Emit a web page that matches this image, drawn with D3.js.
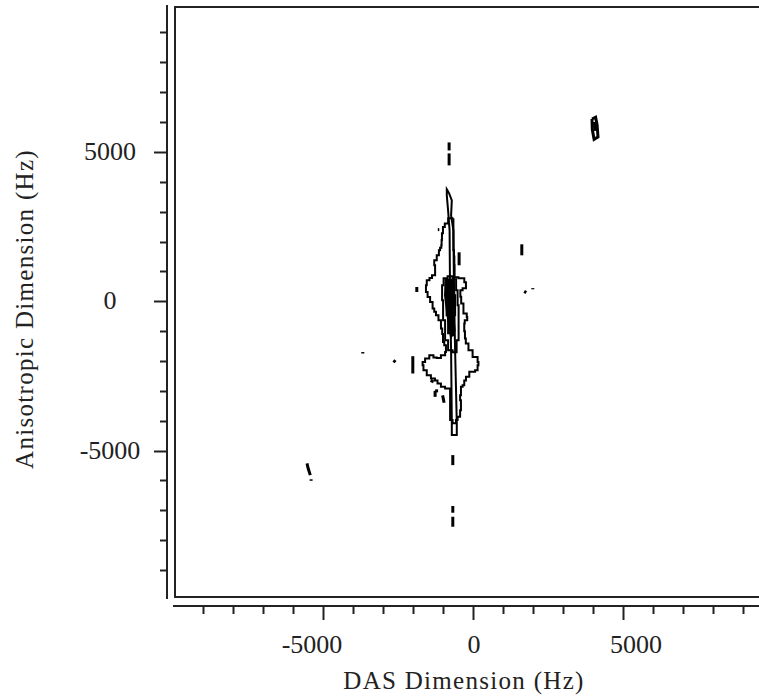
<!DOCTYPE html>
<html>
<head>
<meta charset="utf-8">
<script src="https://cdn.jsdelivr.net/npm/d3@7"></script>
<style>
  html, body { margin: 0; padding: 0; background: #fff; overflow: hidden; }
  text { font-family: "Liberation Serif", "DejaVu Serif", serif; fill: #222; }
</style>
</head>
<body>
<div id="chart"></div>
<script>
// axis ticks (Hz)
const xTicks = d3.range(-9000, 10000, 1000);
const yTicks = d3.range(-9000, 10000, 1000);
const xTickLabels = [-5000, 0, 5000];
const yTickLabels = [5000, 0, -5000];

// main contour around the isotropic peak (Hz, Hz)
const outerContour = [[-640,2776],[-640,1705],[-600,1500],[-617,1204],[-583,803],[-360,770],[-193,635],[-250,435],[-417,368],[-400,150],[-360,-77],[-250,-411],[-140,-525],[-217,-635],[-307,-746],[-250,-1000],[-260,-1250],[-193,-1415],[-83,-1639],[83,-1863],[250,-2030],[140,-2140],[193,-2307],[-27,-2364],[-193,-2531],[-250,-2650],[-307,-2809],[-360,-2866],[-417,-3143],[-417,-3311],[-360,-3645],[-473,-3869],[-527,-3979],[-583,-4080],[-750,-3979],[-750,-2919],[-860,-2919],[-973,-2866],[-1140,-2752],[-1200,-2650],[-1307,-2585],[-1473,-2475],[-1583,-2307],[-1693,-2140],[-1640,-2030],[-1527,-1916],[-1360,-1806],[-1250,-1880],[-1140,-1896],[-973,-1806],[-860,-1695],[-917,-1471],[-973,-1361],[-1000,-1100],[-1027,-913],[-1083,-635],[-1193,-468],[-1250,-350],[-1307,-244],[-1360,-23],[-1473,144],[-1527,311],[-1583,535],[-1473,702],[-1400,780],[-1307,869],[-1193,1037],[-1307,1204],[-1250,1371],[-1140,1538],[-1107,1705],[-1060,1790],[-1027,1873],[-1040,2050],[-1003,2274],[-973,2485],[-880,2600],[-750,2776]];

// narrow ridge running along the anisotropic axis
const spineContour = [[-860,3745],[-783,3612],[-693,3377],[-717,2876],[-640,2374],[-617,33],[-583,-1639],[-527,-4080],[-527,-4481],[-693,-4481],[-693,-4080],[-717,-1639],[-750,33],[-767,2374],[-817,3043],[-860,3545]];

// higher levels in the centre
const innerContours = [
  [[-917,769],[-750,836],[-583,736],[-517,368],[-483,-134],[-450,-635],[-483,-1304],[-583,-1706],[-750,-1639],[-883,-1304],[-950,-635],[-1017,33],[-1017,535]],
  [[-850,535],[-683,602],[-583,201],[-583,-468],[-650,-1137],[-783,-1070],[-850,-468],[-883,100]]
];
const coreContour = [[-900,720],[-640,720],[-600,100],[-660,-300],[-600,-1000],[-720,-1200],[-850,-400],[-920,200]];

// isolated small features
const fragments = [
  [[-783,5317],[-783,5049]],
  [[-783,4949],[-783,4548]],
  [[3980,6100],[4100,6160],[4150,5900],[4180,5500],[4050,5420],[3990,5750],[3980,6100]],
  [[4060,6000],[4080,5700]],
  [[1640,1906],[1640,1538]],
  [[1720,330],[1790,290]],
  [[2007,440],[2007,400]],
  [[-3660,-1700],[-3660,-1750]],
  [[-2640,-1980],[-2570,-2040]],
  [[-1993,-1839],[-1993,-2418]],
  [[-5520,-5430],[-5480,-5600],[-5410,-5820]],
  [[-5383,-5960],[-5383,-6010]],
  [[-1860,478],[-1860,311]],
  [[-1160,2398],[-1110,2398]],
  [[-450,1638],[-450,1204]],
  [[-1400,-2650],[-1300,-2700]],
  [[-1250,-3000],[-1250,-3200]],
  [[-1250,-3000],[-1150,-3000]],
  [[-1000,-3150],[-950,-3400]],
  [[-660,-5150],[-660,-5485]],
  [[-660,-6855],[-660,-7079]],
  [[-660,-7214],[-660,-7548]]
];

const width = 759, height = 698;

const x = d3.scaleLinear().domain([-9920, 10000]).range([175, 772.6]);
const y = d3.scaleLinear().domain([-9900, 9850]).range([597, 7]);
// label positions drift a little from the ticks in the original
const xLabel = d3.scaleLinear().domain([-5000, 5000]).range([312, 636]);

const svg = d3.select("#chart").append("svg")
    .attr("width", width)
    .attr("height", height);

// plot frame
svg.append("rect")
    .attr("x", x(-9920))
    .attr("y", y(9850))
    .attr("width", x(10000) - x(-9920) + 20)
    .attr("height", y(-9900) - y(9850))
    .attr("fill", "none")
    .attr("stroke", "#222")
    .attr("stroke-width", 2);

// detached y axis
const yAxisX = 167;
svg.append("line")
    .attr("x1", yAxisX).attr("x2", yAxisX)
    .attr("y1", 5).attr("y2", 599)
    .attr("stroke", "#222").attr("stroke-width", 2);

svg.append("g").selectAll("line")
  .data(yTicks)
  .join("line")
    .attr("x1", d => d % 5000 === 0 ? yAxisX - 13 : yAxisX - 7)
    .attr("x2", yAxisX)
    .attr("y1", d => Math.round(y(d)) + 0.5)
    .attr("y2", d => Math.round(y(d)) + 0.5)
    .attr("stroke", "#222")
    .attr("stroke-width", 2);

svg.append("g").selectAll("text")
  .data(yTickLabels)
  .join("text")
    .attr("x", 110)
    .attr("y", d => y(d) + 8)
    .attr("text-anchor", "middle")
    .style("font-size", "26px")
    .text(d => d);

// detached x axis
const xAxisY = 606;
svg.append("line")
    .attr("x1", 173).attr("x2", width)
    .attr("y1", xAxisY).attr("y2", xAxisY)
    .attr("stroke", "#222").attr("stroke-width", 2);

svg.append("g").selectAll("line")
  .data(xTicks)
  .join("line")
    .attr("x1", d => Math.round(x(d)) + 0.5)
    .attr("x2", d => Math.round(x(d)) + 0.5)
    .attr("y1", xAxisY)
    .attr("y2", d => d % 5000 === 0 ? xAxisY + 14 : xAxisY + 8)
    .attr("stroke", "#222")
    .attr("stroke-width", 2);

svg.append("g").selectAll("text")
  .data(xTickLabels)
  .join("text")
    .attr("x", d => xLabel(d))
    .attr("y", 653)
    .attr("text-anchor", "middle")
    .style("font-size", "26px")
    .text(d => d);

// axis titles
svg.append("text")
    .attr("x", 464)
    .attr("y", 689)
    .attr("text-anchor", "middle")
    .style("font-size", "25px")
    .style("letter-spacing", "1.3px")
    .text("DAS Dimension (Hz)");

svg.append("text")
    .attr("transform", "translate(33,309) rotate(-90)")
    .attr("text-anchor", "middle")
    .style("font-size", "25px")
    .style("letter-spacing", "1.3px")
    .text("Anisotropic Dimension (Hz)");

// contours
const plot = svg.append("g");

const stepLine = d3.line()
    .x(d => x(d[0]))
    .y(d => y(d[1]))
    .curve(d3.curveStep);

const straightLine = d3.line()
    .x(d => x(d[0]))
    .y(d => y(d[1]));

plot.append("path")
    .attr("d", stepLine(outerContour.concat([outerContour[0]])))
    .attr("fill", "none")
    .attr("stroke", "#000")
    .attr("stroke-width", 2);

plot.append("path")
    .attr("d", straightLine(spineContour) + "Z")
    .attr("fill", "none")
    .attr("stroke", "#000")
    .attr("stroke-width", 2);

plot.selectAll(".inner")
  .data(innerContours)
  .join("path")
    .attr("class", "inner")
    .attr("d", d => stepLine(d.concat([d[0]])))
    .attr("fill", "none")
    .attr("stroke", "#000")
    .attr("stroke-width", 2);

plot.append("path")
    .attr("d", straightLine(coreContour) + "Z")
    .attr("fill", "#000")
    .attr("stroke", "#000")
    .attr("stroke-width", 2);

plot.selectAll(".frag")
  .data(fragments)
  .join("path")
    .attr("class", "frag")
    .attr("d", d => straightLine(d))
    .attr("fill", "none")
    .attr("stroke", "#000")
    .attr("stroke-width", 3);
</script>
</body>
</html>
